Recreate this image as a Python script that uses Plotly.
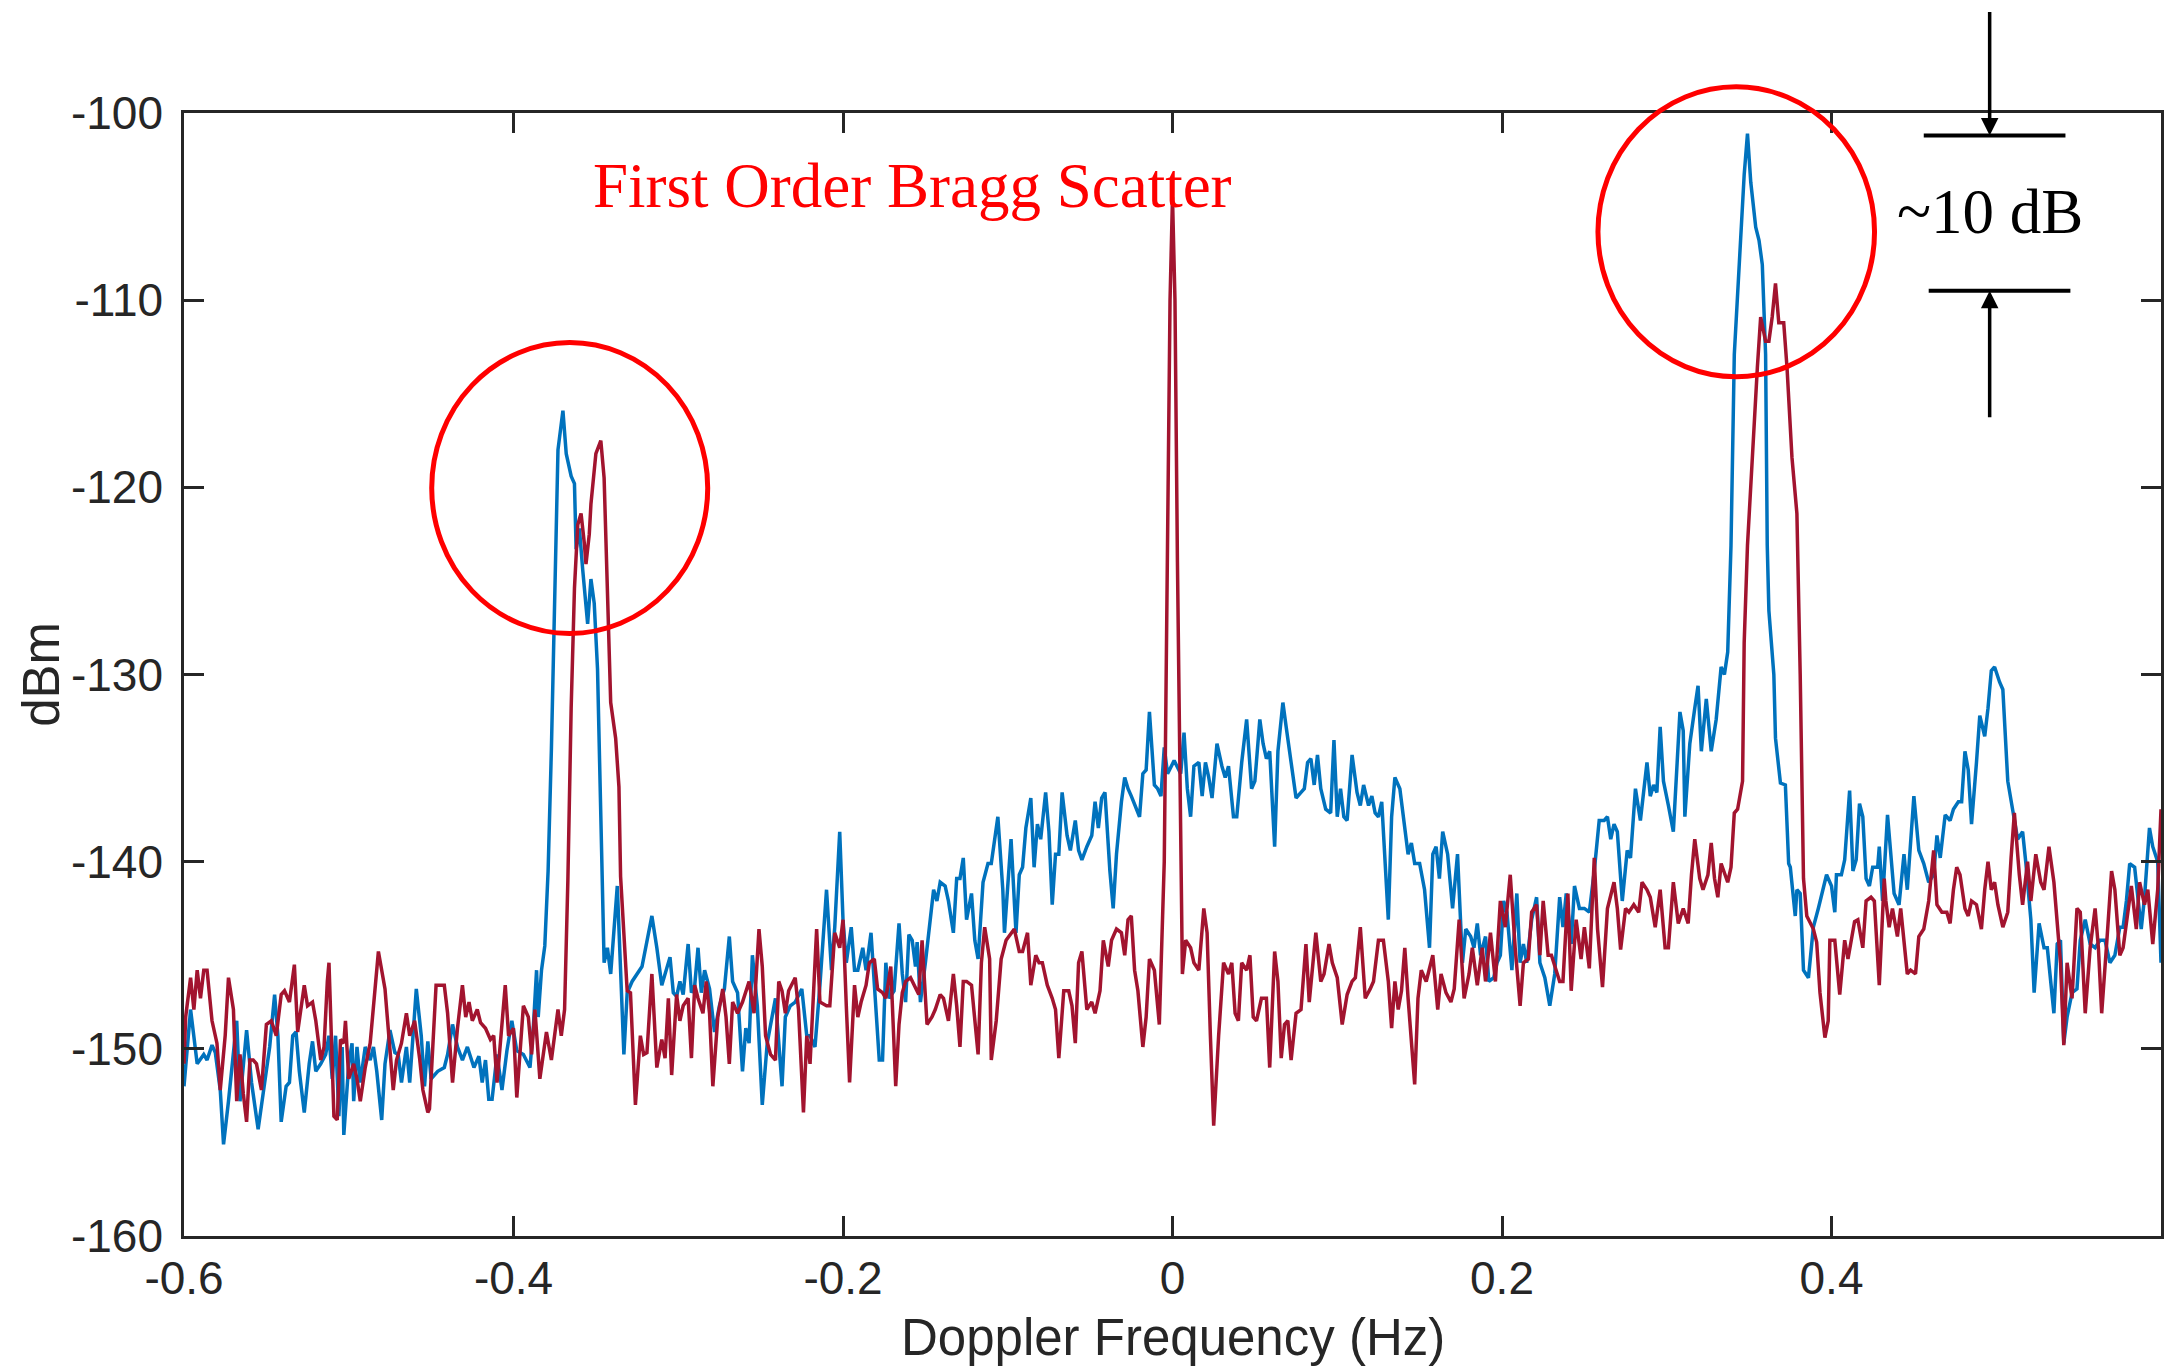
import plotly.graph_objects as go

# ---------------- data ----------------
blue_freq = [
    -0.600, -0.596, -0.592, -0.588, -0.586, -0.583, -0.581, -0.578, -0.576, -0.573,
    -0.568, -0.566, -0.562, -0.559, -0.555, -0.551, -0.548, -0.545, -0.543, -0.541,
    -0.538, -0.536, -0.534, -0.532, -0.530, -0.527, -0.524, -0.522, -0.520, -0.517,
    -0.514, -0.512, -0.510, -0.508, -0.506, -0.504, -0.503, -0.500, -0.498, -0.497,
    -0.495, -0.493, -0.490, -0.487, -0.485, -0.483, -0.480, -0.478, -0.475, -0.472,
    -0.470, -0.468, -0.465, -0.463, -0.459, -0.456, -0.454, -0.452, -0.450, -0.446,
    -0.442, -0.440, -0.437, -0.434, -0.431, -0.428, -0.424, -0.421, -0.419, -0.417,
    -0.415, -0.413, -0.410, -0.407, -0.404, -0.401, -0.398, -0.394, -0.390, -0.388,
    -0.386, -0.385, -0.383, -0.381, -0.379, -0.377, -0.375, -0.373, -0.370, -0.368,
    -0.365, -0.363, -0.362, -0.360, -0.358, -0.355, -0.353, -0.351, -0.349, -0.347,
    -0.345, -0.343, -0.341, -0.337, -0.335, -0.333, -0.331, -0.328, -0.322, -0.316,
    -0.313, -0.310, -0.305, -0.303, -0.301, -0.299, -0.297, -0.294, -0.292, -0.290,
    -0.288, -0.286, -0.284, -0.281, -0.278, -0.275, -0.272, -0.269, -0.267, -0.264,
    -0.261, -0.259, -0.257, -0.255, -0.252, -0.249, -0.246, -0.243, -0.241, -0.237,
    -0.235, -0.232, -0.229, -0.225, -0.222, -0.220, -0.217, -0.214, -0.210, -0.207,
    -0.205, -0.202, -0.200, -0.198, -0.195, -0.193, -0.191, -0.188, -0.186, -0.183,
    -0.181, -0.178, -0.176, -0.174, -0.172, -0.169, -0.166, -0.164, -0.162, -0.160,
    -0.158, -0.156, -0.155, -0.153, -0.150, -0.148, -0.145, -0.143, -0.141, -0.138,
    -0.136, -0.133, -0.131, -0.129, -0.127, -0.125, -0.122, -0.120, -0.118, -0.115,
    -0.112, -0.110, -0.106, -0.103, -0.102, -0.098, -0.095, -0.093, -0.091, -0.089,
    -0.086, -0.084, -0.082, -0.080, -0.077, -0.075, -0.073, -0.071, -0.069, -0.067,
    -0.064, -0.062, -0.059, -0.057, -0.055, -0.052, -0.049, -0.047, -0.045, -0.043,
    -0.041, -0.038, -0.036, -0.034, -0.031, -0.029, -0.027, -0.025, -0.022, -0.020,
    -0.018, -0.016, -0.014, -0.011, -0.009, -0.007, -0.005, -0.003, 0.001, 0.005,
    0.007, 0.009, 0.011, 0.013, 0.016, 0.018, 0.020, 0.022, 0.024, 0.027,
    0.030, 0.032, 0.034, 0.037, 0.039, 0.042, 0.045, 0.048, 0.050, 0.053,
    0.055, 0.057, 0.059, 0.062, 0.064, 0.067, 0.069, 0.072, 0.075, 0.078,
    0.080, 0.082, 0.084, 0.086, 0.088, 0.090, 0.093, 0.096, 0.098, 0.100,
    0.102, 0.104, 0.106, 0.109, 0.112, 0.114, 0.116, 0.119, 0.121, 0.123,
    0.125, 0.127, 0.129, 0.131, 0.133, 0.135, 0.138, 0.140, 0.143, 0.145,
    0.147, 0.150, 0.153, 0.156, 0.158, 0.160, 0.162, 0.164, 0.167, 0.170,
    0.173, 0.176, 0.178, 0.181, 0.183, 0.185, 0.187, 0.190, 0.192, 0.195,
    0.197, 0.199, 0.201, 0.203, 0.206, 0.209, 0.211, 0.213, 0.215, 0.218,
    0.221, 0.223, 0.226, 0.229, 0.232, 0.235, 0.237, 0.239, 0.242, 0.244,
    0.247, 0.250, 0.253, 0.256, 0.259, 0.262, 0.264, 0.266, 0.268, 0.270,
    0.273, 0.276, 0.278, 0.281, 0.284, 0.288, 0.290, 0.292, 0.294, 0.296,
    0.298, 0.301, 0.304, 0.308, 0.310, 0.311, 0.314, 0.317, 0.319, 0.321,
    0.324, 0.327, 0.330, 0.333, 0.335, 0.337, 0.339, 0.341, 0.344, 0.347,
    0.349, 0.351, 0.354, 0.356, 0.358, 0.360, 0.361, 0.362, 0.365, 0.366,
    0.369, 0.372, 0.374, 0.375, 0.378, 0.379, 0.381, 0.383, 0.386, 0.389,
    0.392, 0.397, 0.400, 0.402, 0.403, 0.406, 0.408, 0.411, 0.413, 0.415,
    0.417, 0.419, 0.421, 0.423, 0.425, 0.428, 0.429, 0.431, 0.434, 0.436,
    0.438, 0.441, 0.443, 0.444, 0.446, 0.450, 0.453, 0.456, 0.459, 0.462,
    0.464, 0.466, 0.469, 0.472, 0.474, 0.477, 0.479, 0.481, 0.483, 0.485,
    0.488, 0.490, 0.493, 0.495, 0.497, 0.499, 0.502, 0.504, 0.507, 0.509,
    0.511, 0.513, 0.516, 0.518, 0.521, 0.523, 0.526, 0.529, 0.531, 0.533,
    0.535, 0.537, 0.539, 0.541, 0.543, 0.546, 0.549, 0.551, 0.554, 0.557,
    0.560, 0.563, 0.566, 0.569, 0.572, 0.575, 0.577, 0.579, 0.581, 0.584,
    0.586, 0.588, 0.590, 0.593, 0.595, 0.598, 0.600,
]
blue_dbm = [
    -152.0, -147.9, -150.8, -150.3, -150.6, -149.8, -150.2, -152.2, -155.1, -152.8,
    -148.5, -152.8, -149.0, -151.8, -154.3, -151.8, -149.9, -147.1, -149.3, -153.9,
    -152.0, -151.8, -149.3, -149.1, -151.2, -153.4, -150.8, -149.6, -151.2, -150.8,
    -150.3, -149.3, -151.6, -149.3, -153.6, -149.9, -154.6, -150.8, -149.7, -152.8,
    -149.9, -151.8, -149.9, -150.6, -149.9, -151.2, -153.8, -150.8, -149.0, -150.2,
    -150.3, -151.8, -149.9, -151.8, -146.8, -149.3, -152.0, -149.6, -151.6, -151.2,
    -151.0, -150.3, -148.7, -149.9, -150.6, -149.9, -151.0, -150.4, -151.8, -150.6,
    -152.7, -152.7, -150.3, -152.2, -150.1, -148.5, -150.1, -150.3, -151.0, -148.9,
    -145.8, -148.3, -145.8, -144.5, -140.5, -134.0, -126.0, -118.0, -115.9, -118.2,
    -119.4, -119.8, -123.3, -122.2, -124.4, -127.3, -124.9, -126.2, -129.7, -138.1,
    -145.4, -144.6, -146.0, -141.3, -145.4, -150.3, -147.0, -146.4, -145.6, -142.9,
    -144.6, -146.6, -145.1, -147.0, -147.2, -146.4, -147.1, -144.4, -147.0, -146.6,
    -144.6, -147.0, -145.8, -146.8, -149.1, -147.7, -146.8, -144.0, -146.4, -147.0,
    -151.2, -148.9, -149.7, -145.0, -147.7, -153.0, -149.7, -148.3, -147.3, -152.0,
    -148.3, -147.7, -147.5, -146.8, -149.3, -149.3, -149.9, -146.6, -141.5, -145.8,
    -143.5, -138.4, -143.1, -145.4, -143.5, -145.8, -145.8, -144.6, -145.8, -143.8,
    -146.6, -150.6, -150.6, -145.4, -147.3, -146.9, -143.3, -146.0, -147.5, -143.9,
    -144.2, -145.6, -144.3, -147.5, -145.4, -143.8, -141.5, -142.1, -141.1, -141.3,
    -142.1, -143.8, -140.9, -140.9, -139.8, -143.1, -141.7, -144.2, -145.2, -141.1,
    -140.1, -140.1, -137.6, -141.5, -143.8, -138.8, -143.8, -140.7, -140.3, -138.2,
    -136.6, -140.3, -138.0, -138.8, -136.3, -138.4, -142.3, -139.6, -139.6, -136.3,
    -138.6, -139.4, -137.8, -139.4, -139.9, -139.2, -138.6, -136.8, -138.2, -136.6,
    -136.3, -140.5, -142.5, -139.6, -136.8, -135.5, -136.1, -136.5, -137.2, -137.6,
    -135.3, -135.1, -132.0, -135.9, -136.1, -136.5, -133.9, -135.3, -134.6, -135.3,
    -133.1, -136.1, -137.6, -134.9, -134.7, -136.5, -134.7, -135.5, -136.6, -133.7,
    -134.9, -135.5, -134.9, -137.6, -137.6, -134.7, -132.4, -136.1, -135.7, -132.4,
    -133.7, -134.5, -134.1, -139.2, -134.1, -131.5, -132.8, -134.7, -136.6, -136.3,
    -136.1, -134.7, -134.5, -135.9, -134.3, -136.1, -137.2, -137.4, -133.5, -137.6,
    -136.1, -137.6, -137.8, -134.3, -136.3, -137.0, -135.9, -137.0, -136.5, -137.4,
    -137.6, -136.8, -139.9, -143.1, -137.6, -135.5, -136.1, -137.6, -139.6, -139.0,
    -140.1, -140.1, -141.5, -144.6, -139.6, -139.2, -140.9, -138.4, -139.6, -142.5,
    -139.6, -145.4, -143.6, -144.0, -144.6, -143.3, -145.0, -144.0, -146.4, -146.2,
    -145.4, -145.0, -142.1, -142.7, -145.8, -141.7, -145.4, -144.4, -145.4, -143.1,
    -141.9, -145.4, -146.2, -147.7, -146.0, -141.9, -143.5, -141.7, -144.4, -141.3,
    -142.5, -142.5, -142.7, -140.5, -137.8, -137.8, -137.6, -138.8, -138.0, -138.4,
    -142.1, -139.4, -139.8, -136.1, -137.8, -134.7, -136.5, -135.9, -136.3, -132.8,
    -135.7, -137.0, -138.4, -132.0, -133.0, -137.6, -133.7, -131.8, -130.6, -134.1,
    -131.3, -134.1, -132.4, -129.6, -130.0, -128.8, -123.1, -112.9, -108.1, -103.3,
    -101.1, -103.7, -106.1, -106.8, -108.1, -112.9, -123.1, -126.6, -130.0, -133.4,
    -135.8, -135.9, -140.1, -140.3, -142.9, -141.5, -141.7, -145.8, -146.2, -143.5,
    -142.5, -140.7, -141.3, -142.7, -140.7, -140.7, -139.9, -136.2, -140.5, -139.9,
    -136.9, -137.6, -140.9, -141.3, -140.3, -140.3, -139.2, -142.1, -137.5, -139.6,
    -141.7, -142.3, -140.7, -139.6, -141.5, -136.5, -139.4, -140.1, -141.1, -140.7,
    -138.6, -139.8, -137.5, -137.8, -137.2, -136.8, -136.8, -134.1, -135.1, -138.0,
    -134.7, -132.2, -133.3, -131.8, -129.8, -129.6, -130.4, -130.8, -135.7, -136.7,
    -137.6, -138.8, -138.4, -140.1, -143.1, -147.0, -143.3, -144.6, -144.6, -146.4,
    -148.1, -144.4, -144.2, -149.7, -148.3, -147.0, -146.8, -144.2, -143.1, -144.4,
    -144.6, -144.2, -144.2, -145.4, -145.0, -143.5, -143.5, -142.1, -140.1, -140.3,
    -141.9, -143.6, -141.9, -138.2, -139.2, -140.0, -145.4,
]

red_freq = [
    -0.600, -0.599, -0.596, -0.594, -0.592, -0.590, -0.588, -0.586, -0.583, -0.580,
    -0.578, -0.575, -0.573, -0.570, -0.568, -0.566, -0.564, -0.562, -0.560, -0.558,
    -0.556, -0.553, -0.550, -0.547, -0.544, -0.541, -0.539, -0.536, -0.533, -0.531,
    -0.527, -0.525, -0.522, -0.520, -0.517, -0.515, -0.513, -0.512, -0.509, -0.507,
    -0.505, -0.503, -0.502, -0.500, -0.497, -0.495, -0.493, -0.490, -0.487, -0.482,
    -0.478, -0.475, -0.473, -0.471, -0.468, -0.465, -0.463, -0.460, -0.457, -0.455,
    -0.452, -0.451, -0.447, -0.444, -0.442, -0.440, -0.437, -0.434, -0.431, -0.429,
    -0.427, -0.425, -0.422, -0.420, -0.417, -0.414, -0.412, -0.410, -0.407, -0.405,
    -0.403, -0.400, -0.398, -0.394, -0.391, -0.389, -0.387, -0.384, -0.380, -0.377,
    -0.373, -0.371, -0.369, -0.367, -0.365, -0.363, -0.361, -0.359, -0.357, -0.356,
    -0.354, -0.353, -0.350, -0.347, -0.345, -0.344, -0.341, -0.338, -0.336, -0.335,
    -0.333, -0.331, -0.329, -0.326, -0.323, -0.321, -0.319, -0.316, -0.313, -0.310,
    -0.308, -0.306, -0.304, -0.301, -0.299, -0.297, -0.294, -0.292, -0.290, -0.288,
    -0.285, -0.283, -0.281, -0.279, -0.276, -0.273, -0.271, -0.269, -0.267, -0.264,
    -0.261, -0.259, -0.257, -0.254, -0.251, -0.249, -0.247, -0.244, -0.241, -0.239,
    -0.237, -0.235, -0.233, -0.229, -0.227, -0.224, -0.222, -0.220, -0.216, -0.214,
    -0.210, -0.208, -0.205, -0.202, -0.200, -0.198, -0.196, -0.193, -0.191, -0.189,
    -0.186, -0.184, -0.181, -0.179, -0.176, -0.174, -0.171, -0.168, -0.166, -0.164,
    -0.162, -0.159, -0.156, -0.154, -0.152, -0.149, -0.146, -0.144, -0.141, -0.139,
    -0.136, -0.133, -0.131, -0.129, -0.127, -0.125, -0.122, -0.118, -0.116, -0.114,
    -0.111, -0.110, -0.107, -0.104, -0.101, -0.098, -0.096, -0.093, -0.091, -0.088,
    -0.086, -0.083, -0.081, -0.079, -0.076, -0.073, -0.071, -0.069, -0.066, -0.063,
    -0.061, -0.059, -0.057, -0.055, -0.052, -0.049, -0.047, -0.044, -0.042, -0.039,
    -0.037, -0.034, -0.031, -0.029, -0.027, -0.025, -0.023, -0.021, -0.018, -0.016,
    -0.014, -0.011, -0.008, -0.005, -0.003, -0.0015, 0.000, 0.0015, 0.003, 0.005,
    0.006, 0.008, 0.011, 0.013, 0.016, 0.019, 0.021, 0.023, 0.025, 0.028,
    0.031, 0.034, 0.036, 0.038, 0.040, 0.042, 0.045, 0.047, 0.049, 0.051,
    0.054, 0.057, 0.059, 0.062, 0.064, 0.066, 0.068, 0.070, 0.072, 0.075,
    0.078, 0.081, 0.083, 0.087, 0.090, 0.092, 0.095, 0.097, 0.100, 0.103,
    0.106, 0.109, 0.111, 0.114, 0.117, 0.120, 0.122, 0.125, 0.128, 0.131,
    0.133, 0.135, 0.137, 0.139, 0.141, 0.143, 0.147, 0.149, 0.151, 0.154,
    0.156, 0.158, 0.161, 0.163, 0.166, 0.169, 0.171, 0.174, 0.177, 0.180,
    0.182, 0.185, 0.188, 0.190, 0.193, 0.196, 0.199, 0.202, 0.205, 0.208,
    0.211, 0.213, 0.216, 0.218, 0.221, 0.223, 0.225, 0.228, 0.230, 0.232,
    0.235, 0.237, 0.240, 0.242, 0.245, 0.248, 0.250, 0.253, 0.256, 0.258,
    0.261, 0.264, 0.268, 0.270, 0.272, 0.275, 0.277, 0.280, 0.283, 0.285,
    0.288, 0.290, 0.293, 0.296, 0.299, 0.301, 0.304, 0.307, 0.310, 0.313,
    0.315, 0.317, 0.320, 0.322, 0.325, 0.327, 0.329, 0.331, 0.333, 0.337,
    0.339, 0.341, 0.343, 0.346, 0.347, 0.349, 0.352, 0.355, 0.357, 0.360,
    0.362, 0.364, 0.366, 0.368, 0.371, 0.373, 0.376, 0.379, 0.381, 0.383,
    0.385, 0.389, 0.391, 0.393, 0.396, 0.398, 0.399, 0.402, 0.405, 0.408,
    0.410, 0.412, 0.414, 0.416, 0.419, 0.421, 0.424, 0.426, 0.429, 0.432,
    0.433, 0.435, 0.437, 0.440, 0.442, 0.446, 0.448, 0.451, 0.453, 0.456,
    0.459, 0.462, 0.464, 0.467, 0.470, 0.472, 0.474, 0.476, 0.478, 0.481,
    0.483, 0.485, 0.488, 0.491, 0.493, 0.495, 0.497, 0.499, 0.501, 0.504,
    0.507, 0.509, 0.511, 0.514, 0.516, 0.519, 0.521, 0.524, 0.527, 0.529,
    0.532, 0.535, 0.537, 0.539, 0.541, 0.543, 0.546, 0.549, 0.551, 0.554,
    0.557, 0.560, 0.562, 0.564, 0.567, 0.570, 0.572, 0.575, 0.577, 0.580,
    0.582, 0.585, 0.587, 0.590, 0.592, 0.595, 0.598, 0.600,
]
red_dbm = [
    -150.8, -148.3, -146.2, -147.9, -145.8, -147.3, -145.8, -145.8, -148.5, -149.7,
    -152.2, -149.3, -146.2, -147.9, -152.8, -150.3, -152.4, -153.9, -150.6, -150.6,
    -150.8, -152.2, -148.7, -148.5, -149.3, -147.1, -146.9, -147.5, -145.5, -149.1,
    -146.6, -147.7, -147.5, -148.5, -150.6, -149.9, -146.4, -145.4, -153.6, -153.8,
    -149.5, -149.7, -148.5, -151.6, -150.8, -151.6, -152.8, -151.0, -149.7, -144.8,
    -146.8, -150.3, -152.2, -150.6, -149.7, -148.1, -149.3, -148.5, -150.5, -152.2,
    -153.4, -153.2, -146.6, -146.6, -146.6, -148.1, -151.8, -148.9, -146.6, -148.3,
    -147.5, -148.5, -147.9, -148.6, -148.9, -149.5, -149.3, -151.8, -148.5, -146.6,
    -149.3, -148.9, -152.6, -147.7, -148.3, -150.3, -147.9, -151.6, -149.1, -150.6,
    -147.9, -149.3, -147.9, -141.0, -131.8, -125.4, -122.0, -121.4, -123.0, -124.1,
    -122.5, -120.9, -118.2, -117.5, -119.5, -122.2, -131.5, -133.4, -136.0, -140.8,
    -143.5, -146.9, -147.0, -153.0, -149.3, -150.3, -150.2, -146.0, -151.0, -149.5,
    -150.5, -147.3, -151.4, -147.1, -148.5, -147.7, -147.3, -150.5, -146.6, -147.3,
    -148.1, -146.4, -148.1, -152.0, -148.3, -146.8, -148.3, -150.8, -147.5, -148.1,
    -147.5, -146.9, -146.4, -148.1, -143.6, -145.6, -149.3, -150.3, -150.6, -146.4,
    -146.9, -148.1, -146.9, -146.2, -147.9, -153.4, -149.3, -150.8, -143.6, -147.5,
    -147.7, -147.7, -143.8, -144.6, -143.1, -147.7, -151.8, -146.6, -148.3, -147.5,
    -146.6, -145.4, -145.2, -146.8, -147.0, -147.3, -145.6, -152.0, -148.7, -147.0,
    -146.4, -146.2, -146.8, -147.1, -144.2, -148.7, -148.3, -147.9, -147.1, -147.3,
    -148.5, -146.0, -147.7, -149.9, -146.4, -146.4, -146.6, -150.3, -145.4, -143.5,
    -145.2, -150.6, -148.5, -145.2, -144.2, -143.8, -143.6, -144.8, -144.8, -143.8,
    -146.6, -145.0, -145.4, -145.4, -146.6, -147.3, -147.9, -150.5, -146.9, -146.9,
    -147.7, -149.7, -145.4, -144.8, -147.9, -147.5, -148.1, -146.9, -144.2, -145.6,
    -144.2, -143.6, -143.8, -145.0, -143.1, -142.9, -145.8, -146.9, -149.9, -148.3,
    -145.2, -145.8, -148.7, -140.0, -122.0, -110.0, -104.5, -110.0, -124.0, -140.0,
    -146.0, -144.2, -144.6, -145.4, -145.8, -142.5, -143.8, -149.3, -154.1, -149.3,
    -145.4, -146.0, -145.4, -148.1, -148.5, -145.4, -145.8, -145.0, -148.3, -148.5,
    -147.3, -147.3, -151.0, -144.8, -146.4, -150.5, -148.7, -148.5, -150.6, -148.1,
    -147.9, -144.4, -147.5, -143.8, -146.4, -146.0, -144.4, -145.4, -146.2, -148.7,
    -147.1, -146.4, -146.2, -143.5, -147.3, -146.8, -146.4, -144.2, -144.2, -146.4,
    -148.9, -146.4, -147.9, -146.9, -144.6, -147.3, -151.9, -147.3, -145.8, -146.4,
    -145.6, -145.0, -147.9, -146.0, -147.0, -147.5, -146.8, -143.1, -147.3, -146.0,
    -144.6, -146.6, -144.6, -146.4, -143.8, -146.4, -142.1, -143.5, -140.7, -144.6,
    -147.7, -145.4, -145.2, -142.7, -142.3, -145.0, -142.1, -145.0, -145.0, -145.6,
    -146.4, -146.4, -141.7, -146.9, -143.1, -145.2, -143.5, -145.7, -139.8, -143.6,
    -146.7, -142.5, -141.1, -142.5, -144.7, -142.5, -142.7, -142.3, -142.7, -141.1,
    -141.5, -141.9, -143.5, -141.5, -144.6, -144.6, -141.1, -143.3, -142.5, -143.3,
    -140.7, -138.8, -140.9, -141.5, -140.7, -139.0, -140.9, -141.9, -140.1, -141.1,
    -140.3, -137.4, -137.2, -135.7, -128.3, -123.1, -118.0, -113.6, -110.9, -112.2,
    -112.2, -110.9, -109.1, -111.2, -111.2, -113.6, -118.4, -121.4, -130.0, -140.9,
    -142.9, -143.6, -144.3, -147.0, -149.4, -148.5, -144.2, -144.2, -147.1, -144.2,
    -145.2, -144.2, -143.2, -143.1, -144.6, -142.1, -141.9, -142.1, -146.6, -140.9,
    -142.1, -143.5, -142.5, -144.0, -142.5, -146.0, -145.8, -146.0, -144.0, -143.6,
    -142.1, -139.4, -142.3, -142.7, -142.7, -143.3, -141.5, -140.3, -140.7, -142.5,
    -142.9, -142.1, -142.3, -143.6, -141.5, -140.0, -141.5, -141.1, -142.3, -143.5,
    -142.7, -139.8, -137.4, -140.7, -142.3, -140.0, -142.1, -139.6, -141.1, -141.5,
    -139.2, -141.1, -143.5, -145.4, -149.8, -145.4, -147.3, -142.5, -142.7, -148.1,
    -144.6, -142.5, -144.6, -148.1, -144.4, -140.5, -141.5, -145.0, -144.6, -142.5,
    -141.3, -143.6, -141.1, -142.3, -141.5, -144.4, -141.5, -137.2,
]

x_tick_vals = [-0.6, -0.4, -0.2, 0.0, 0.2, 0.4]
x_tick_text = ["-0.6", "-0.4", "-0.2", "0", "0.2", "0.4"]
y_tick_vals = [-160, -150, -140, -130, -120, -110, -100]
y_tick_text = ["-160", "-150", "-140", "-130", "-120", "-110", "-100"]

x_title = "Doppler Frequency (Hz)"
y_title = "dBm"
bragg_label = "First Order Bragg Scatter"
gap_label = "~10 dB"
gap_top_dbm = -101.2      # blue peak level marker
gap_bottom_dbm = -109.5   # red peak level marker

# ---------------- styling ----------------
BLUE = "#0072BD"
RED = "#A2142F"
AXIS = "#262626"
MARK = "#FF0000"
SANS = "Liberation Sans, Arial, Helvetica, sans-serif"
SERIF = "Liberation Serif, Times New Roman, serif"

fig = go.Figure()
fig.add_trace(go.Scatter(x=blue_freq, y=blue_dbm, mode="lines",
                         line=dict(color=BLUE, width=3.5), showlegend=False))
fig.add_trace(go.Scatter(x=red_freq, y=red_dbm, mode="lines",
                         line=dict(color=RED, width=3.5), showlegend=False))

axis_common = dict(
    showline=True, linecolor=AXIS, linewidth=2.5, mirror="ticks",
    ticks="inside", ticklen=20, tickwidth=2.5, tickcolor=AXIS,
    showgrid=False, zeroline=False,
    tickfont=dict(family=SANS, size=46, color=AXIS),
)

fig.update_layout(
    width=2170, height=1369,
    margin=dict(l=184, r=6, t=113, b=133),
    paper_bgcolor="white", plot_bgcolor="white",
    xaxis=dict(range=[-0.6, 0.6], tickmode="array", tickvals=x_tick_vals,
               ticktext=x_tick_text, ticklabelstandoff=0, **axis_common),
    yaxis=dict(range=[-160, -100], tickmode="array", tickvals=y_tick_vals,
               ticktext=y_tick_text, ticklabelstandoff=9, **axis_common),
)

annotations = [
    dict(text=x_title, xref="paper", yref="paper", x=0.5, y=-0.09,
         xanchor="center", yanchor="middle", showarrow=False,
         font=dict(family=SANS, size=51, color=AXIS)),
    dict(text=y_title, xref="paper", yref="paper", x=-0.0722, y=0.5,
         xanchor="center", yanchor="middle", showarrow=False, textangle=-90,
         font=dict(family=SANS, size=51, color=AXIS)),
    dict(text=bragg_label, xref="x", yref="y", x=-0.158, y=-103.9,
         xanchor="center", yanchor="middle", showarrow=False,
         font=dict(family=SERIF, size=63, color=MARK)),
    dict(text=gap_label, xref="x", yref="y", x=0.496, y=-105.3,
         xanchor="center", yanchor="middle", showarrow=False,
         font=dict(family=SERIF, size=63, color="black")),
    # downward arrow onto the upper level line
    dict(text="", xref="x", yref="y", x=0.496, y=gap_top_dbm,
         ax=0, ay=-125, axref="pixel", ayref="pixel", showarrow=True,
         arrowhead=2, arrowsize=1, arrowwidth=3.5, arrowcolor="black", standoff=0),
    # upward arrow onto the lower level line
    dict(text="", xref="x", yref="y", x=0.496, y=gap_bottom_dbm,
         ax=0, ay=128, axref="pixel", ayref="pixel", showarrow=True,
         arrowhead=2, arrowsize=1, arrowwidth=3.5, arrowcolor="black", standoff=0),
]
fig.update_layout(annotations=annotations)

shapes = [
    # ~10 dB level lines
    dict(type="line", xref="x", yref="y", x0=0.456, x1=0.542,
         y0=gap_top_dbm, y1=gap_top_dbm, line=dict(color="black", width=4)),
    dict(type="line", xref="x", yref="y", x0=0.459, x1=0.545,
         y0=gap_bottom_dbm, y1=gap_bottom_dbm, line=dict(color="black", width=4)),
    # red circles around the first-order Bragg peaks
    dict(type="circle", xref="paper", yref="paper", x0=0.1253, x1=0.2649,
         y0=0.5365, y1=0.7956, line=dict(color=MARK, width=5)),
    dict(type="circle", xref="paper", yref="paper", x0=0.7152, x1=0.8551,
         y0=0.7651, y1=1.0233, line=dict(color=MARK, width=5)),
]
fig.update_layout(shapes=shapes)

fig.write_html("out.html", config={"displayModeBar": False},
               post_script="document.body.style.margin='0';")
